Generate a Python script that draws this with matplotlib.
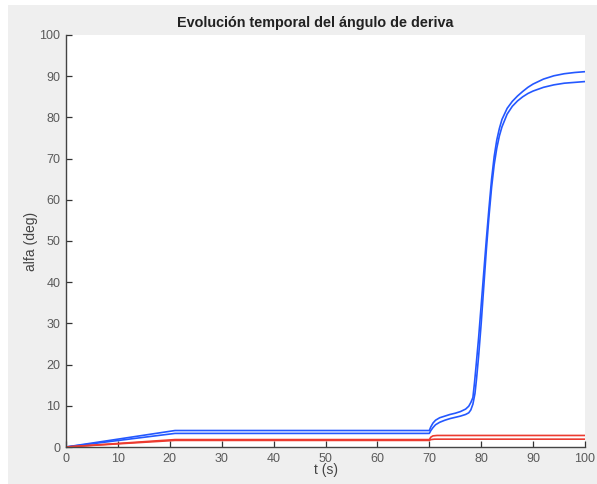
import matplotlib
matplotlib.use("Agg")
import matplotlib.pyplot as plt
from matplotlib.patches import Rectangle

# drift angle time histories (deg) for the four runs
t_blue_a = [0, 21, 70, 70.3, 70.7, 71.2, 72, 73, 74, 75, 76, 77, 77.6, 78, 78.4,
            78.7, 79.0, 79.5, 80.0, 80.5, 81.0, 81.5, 82.0, 82.5, 83.0, 83.5, 84,
            85, 86, 87, 88, 89, 90, 92, 94, 96, 98, 100]
alfa_blue_a = [0, 4.0, 4.0, 4.9, 5.8, 6.5, 7.1, 7.5, 7.9, 8.2, 8.6, 9.2, 9.9, 10.8, 12.0,
               15.5, 19.5, 26.5, 34.5, 42.5, 50.5, 58.0, 65.0, 70.5, 74.5, 77.3, 79.5,
               82.2, 83.9, 85.2, 86.3, 87.3, 88.1, 89.3, 90.1, 90.6, 90.9, 91.1]

t_blue_b = [0, 21, 70, 70.3, 70.7, 71.2, 72, 73, 74, 75, 76, 77, 77.6, 78, 78.4,
            78.8, 79.1, 79.5, 80.0, 80.5, 81.0, 81.5, 82.0, 82.5, 83.0, 83.5, 84,
            85, 86, 87, 88, 89, 90, 92, 94, 96, 98, 100]
alfa_blue_b = [0, 3.3, 3.3, 4.0, 4.7, 5.4, 6.0, 6.5, 6.9, 7.2, 7.5, 7.9, 8.3, 9.0, 10.4,
               13.0, 16.5, 22.0, 30.0, 39.0, 48.0, 56.0, 63.0, 68.5, 72.5, 75.5, 77.7,
               80.8, 82.7, 84.0, 85.0, 85.8, 86.4, 87.3, 87.9, 88.3, 88.5, 88.7]

t_red_a = [0, 21, 70, 70.3, 70.7, 71.5, 100]
alfa_red_a = [0, 1.8, 1.8, 2.4, 2.7, 2.8, 2.8]

t_red_b = [0, 21, 70, 70.3, 71.0, 100]
alfa_red_b = [0, 1.6, 1.6, 1.8, 1.9, 1.9]

ticks = list(range(0, 101, 10))

W, H = 597, 484
fig = plt.figure(figsize=(W / 100, H / 100), dpi=100, facecolor="white")
# grey figure panel
fig.patches.append(Rectangle((8 / W, 0), 1 - 8 / W, 1 - 5 / H,
                             transform=fig.transFigure, facecolor="#efefef",
                             edgecolor="none", zorder=-1))

ax = fig.add_axes([66 / W, (H - 447) / H, (585 - 66) / W, (447 - 35) / H])
ax.set_facecolor("white")

blue = "#2458ff"
red = "#ec3b30"
ax.plot(t_blue_a, alfa_blue_a, color=blue, lw=1.2)
ax.plot(t_blue_b, alfa_blue_b, color=blue, lw=1.2)
ax.plot(t_red_a, alfa_red_a, color=red, lw=1.2)
ax.plot(t_red_b, alfa_red_b, color=red, lw=1.2)

ax.set_xlim(0, 100)
ax.set_ylim(0, 100)
ax.set_xticks(ticks)
ax.set_yticks(ticks)

for s in ("top", "right"):
    ax.spines[s].set_visible(False)
for s in ("left", "bottom"):
    ax.spines[s].set_color("#444444")
    ax.spines[s].set_linewidth(1.0)

ax.tick_params(direction="in", length=4, width=0.9, color="#333333",
               labelcolor="#5a5a5a", labelsize=9, pad=4)
for lab in ax.get_xticklabels() + ax.get_yticklabels():
    lab.set_family("Liberation Sans")

ax.set_title("Evolución temporal del ángulo de deriva", fontsize=10.4,
             fontweight="bold", family="Liberation Sans", color="#222222",
             pad=6, x=0.48)
ax.set_xlabel("t (s)", fontsize=10, family="Liberation Sans", color="#444444", labelpad=-1)
ax.set_ylabel("alfa (deg)", fontsize=10, family="Liberation Sans", color="#444444", labelpad=1)

fig.savefig("out.png", dpi=100, facecolor=fig.get_facecolor())
